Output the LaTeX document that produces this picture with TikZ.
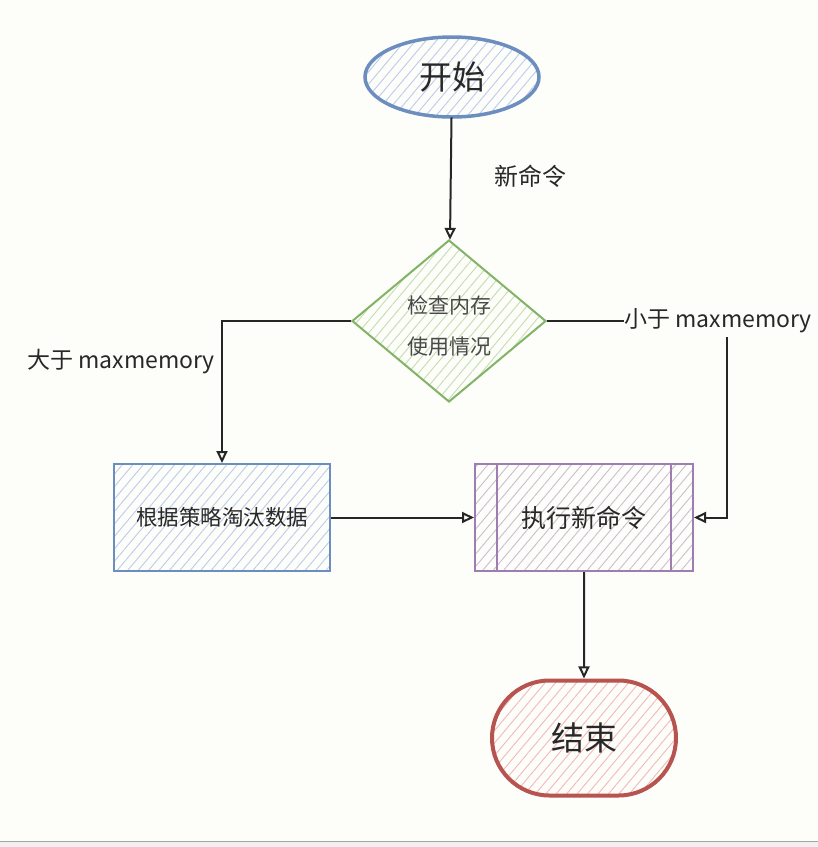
\documentclass[tikz,border=0pt]{standalone}
\usepackage{fontspec}
\setmainfont{Noto Sans CJK SC}
\usetikzlibrary{shapes.geometric,shapes.misc,patterns.meta,arrows.meta,calc}
\definecolor{bg}{RGB}{253,253,249}
\definecolor{sblue}{RGB}{108,142,191}
\definecolor{hblue}{RGB}{185,205,238}
\definecolor{sgreen}{RGB}{130,179,102}
\definecolor{hgreen}{RGB}{195,222,178}
\definecolor{spurple}{RGB}{160,125,176}
\definecolor{hpurple}{RGB}{205,188,215}
\definecolor{sred}{RGB}{184,84,80}
\definecolor{hred}{RGB}{242,185,185}
\definecolor{txt}{RGB}{40,40,40}
\tikzset{
  hatch/.style={pattern={Lines[angle=50,distance=8pt,line width=0.9pt]}, pattern color=#1},
  startst/.style={ellipse, draw=sblue, line width=3.5pt, hatch=hblue, minimum width=174pt, minimum height=80pt, inner sep=0pt, font=\fontsize{33}{35}\selectfont, text=txt},
  decst/.style={diamond, draw=sgreen, line width=2pt, hatch=hgreen, minimum width=194pt, minimum height=162pt, inner sep=0pt},
  dectext/.style={align=center, inner sep=0pt, font=\fontsize{21}{41}\selectfont, text=txt!85},
  evictst/.style={rectangle, draw=sblue, line width=2pt, hatch=hblue, minimum width=216pt, minimum height=107pt, inner sep=0pt, font=\fontsize{21.5}{23}\selectfont, text=txt},
  procst/.style={rectangle, draw=spurple, line width=2pt, hatch=hpurple, minimum width=218pt, minimum height=107pt, inner sep=0pt, font=\fontsize{25}{27}\selectfont, text=txt},
  endst/.style={rounded rectangle, draw=sred, line width=4pt, hatch=hred, minimum width=184pt, minimum height=115pt, inner sep=0pt, font=\fontsize{33}{35}\selectfont, text=txt},
  lbl/.style={font=\fontsize{23}{25}\selectfont, text=txt, inner sep=0pt},
  arr/.style={draw=black!85, line width=2pt, -{Triangle[open,length=12pt,width=11pt,line width=2pt]}},
  conn/.style={draw=black!85, line width=2pt},
}
\begin{document}
\begin{tikzpicture}[x=1pt,y=-1pt]
\fill[bg] (0,0) rectangle (818,847);
\useasboundingbox (0,0) rectangle (818,847);
\fill[gray!12] (0,842) rectangle (818,847);
\draw[gray!70, line width=1.2pt] (0,841.5) -- (818,841.5);

\node[startst] (start) at (452,77) {开始};
\node[decst] (dec) at (449,321) {};
\node[dectext] (dect) at (449,326) {检查内存\\使用情况};
\node[evictst] (evict) at (222,517.5) {根据策略淘汰数据};
\node[procst] (exec) at (584,517.5) {执行新命令};
\draw[spurple, line width=2pt] ($(exec.north west)+(23,0)$) -- ($(exec.south west)+(23,0)$);
\draw[spurple, line width=2pt] ($(exec.north east)+(-23,0)$) -- ($(exec.south east)+(-23,0)$);
\node[endst] (end) at (584,738) {结束};

\node[lbl, font=\fontsize{24}{26}\selectfont] (newcmd) at (530,176) {新命令};
\node[lbl] (gt) at (121,362) {大于 maxmemory};
\node[lbl] (lt) at (718,321) {小于 maxmemory};
\coordinate (ltdown) at (727,337);

\draw[arr] (start) -- (dec);
\draw[arr] (dec.west) -| (evict.north);
\draw[conn] (dec.east) -- (lt.west);
\draw[arr] (ltdown) |- (exec.east);
\draw[arr] (evict.east) -- (exec.west);
\draw[arr] (exec) -- (end);
\end{tikzpicture}
\end{document}
